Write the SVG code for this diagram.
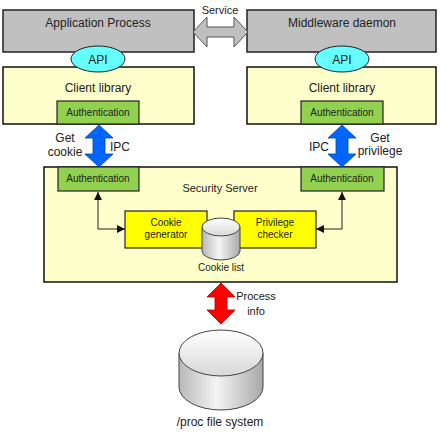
<svg xmlns="http://www.w3.org/2000/svg" width="446" height="438" viewBox="0 0 446 438">
<style>
text{font-family:"Liberation Sans",Arial,sans-serif;fill:#222;text-anchor:middle}
.l{font-size:12px}.m{font-size:11px}.s{font-size:10px}
.gray{fill:#c0c0c0;stroke:#222;stroke-width:1.5}
.lib{fill:#ffffcc;stroke:#111;stroke-width:1.5}
.auth{fill:#92d050;stroke:#222;stroke-width:1.2}
.yel{fill:#ffff00;stroke:#222;stroke-width:1.2}
.api{fill:#66ffff;stroke:#222;stroke-width:1}
.cyl{stroke:#444;stroke-width:1}
.conn{fill:none;stroke:#222;stroke-width:1}
</style>
<defs>
<marker id="ah" viewBox="0 0 10 10" refX="10" refY="5" markerWidth="8" markerHeight="8" markerUnits="userSpaceOnUse" orient="auto-start-reverse"><path d="M0,0 L10,5 L0,10 Z" fill="#111"/></marker>
<linearGradient id="body" x1="0" y1="0" x2="1" y2="0"><stop offset="0" stop-color="#b8b8b8"/><stop offset="0.45" stop-color="#f4f4f4"/><stop offset="1" stop-color="#a8a8a8"/></linearGradient>
<linearGradient id="top" x1="0" y1="0" x2="0" y2="1"><stop offset="0" stop-color="#ffffff"/><stop offset="1" stop-color="#d8d8d8"/></linearGradient>
</defs>
<g id="app-process"><rect class="gray" x="3" y="10" width="191" height="42"/><text class="l" x="98" y="27">Application Process</text></g>
<g id="middleware"><rect class="gray" x="247" y="10" width="189" height="42"/><text class="l" x="342" y="27">Middleware daemon</text></g>
<g id="client-lib-left"><rect class="lib" x="3" y="67" width="191" height="57"/><text class="l" x="98" y="92">Client library</text></g>
<g id="client-lib-right"><rect class="lib" x="247" y="67" width="189" height="57"/><text class="l" x="342" y="92">Client library</text></g>
<g id="api-left"><ellipse class="api" cx="98" cy="59" rx="27" ry="13"/><text class="l" x="98" y="64">API</text></g>
<g id="api-right"><ellipse class="api" cx="342" cy="59" rx="27" ry="13"/><text class="l" x="342" y="64">API</text></g>
<g id="auth-left-lib"><rect class="auth" x="57" y="101" width="82" height="23"/><text class="s" x="98" y="116">Authentication</text></g>
<g id="auth-right-lib"><rect class="auth" x="301" y="101" width="82" height="23"/><text class="s" x="342" y="116">Authentication</text></g>
<g id="security-server"><rect class="lib" x="44" y="167" width="353" height="115"/><text class="m" x="220" y="192">Security Server</text></g>
<g id="auth-left-srv"><rect class="auth" x="58" y="167" width="81" height="24"/><text class="s" x="98" y="182">Authentication</text></g>
<g id="auth-right-srv"><rect class="auth" x="301" y="167" width="83" height="24"/><text class="s" x="342" y="182">Authentication</text></g>
<g id="cookie-generator"><rect class="yel" x="125" y="211" width="82" height="37"/><text class="s" x="166" y="226">Cookie</text><text class="s" x="166" y="238">generator</text></g>
<g id="privilege-checker"><rect class="yel" x="234" y="211" width="82" height="37"/><text class="s" x="275" y="226">Privilege</text><text class="s" x="275" y="238">checker</text></g>
<g id="cookie-list"><path class="cyl" fill="url(#body)" d="M202,227 V251 A19,9 0 0 0 240,251 V227 Z"/><ellipse class="cyl" fill="url(#top)" cx="221" cy="227" rx="19" ry="9"/><text class="s" x="221" y="271">Cookie list</text></g>
<g id="proc-fs"><path class="cyl" fill="url(#body)" d="M179,353 V387 A42,23 0 0 0 263,387 V353 Z"/><ellipse class="cyl" fill="url(#top)" cx="221" cy="353" rx="42" ry="23"/><text class="l" x="220" y="426">/proc file system</text></g>
<g id="connectors">
<polygon points="193,32 207,17 207,27 234,27 234,17 248,32 234,47 234,37 207,37 207,47" fill="#c0c0c0" stroke="#555" stroke-width="1"/>
<text class="m" x="220" y="14">Service</text>
<polygon points="99,125 113,138 105,138 105,154 113,154 99,167 85,154 93,154 93,138 85,138" fill="#0066ff" stroke="#0044aa" stroke-width="0.8"/>
<text class="l" x="65" y="142">Get</text><text class="l" x="65" y="156">cookie</text><text class="l" x="120" y="151">IPC</text>
<polygon points="342,125 356,138 348,138 348,154 356,154 342,167 328,154 336,154 336,138 328,138" fill="#0066ff" stroke="#0044aa" stroke-width="0.8"/>
<text class="l" x="319" y="151">IPC</text><text class="l" x="380" y="142">Get</text><text class="l" x="380" y="155">privilege</text>
<polygon points="221,283 235,297 227,297 227,310 235,310 221,324 207,310 215,310 215,297 207,297" fill="#ff0000" stroke="#b00000" stroke-width="0.8"/>
<text class="m" x="256" y="300">Process</text><text class="m" x="256" y="315">info</text>
<path class="conn" d="M98,192 V229 H125" marker-start="url(#ah)" marker-end="url(#ah)"/>
<path class="conn" d="M342,192 V229 H316" marker-start="url(#ah)" marker-end="url(#ah)"/>
</g>
</svg>
